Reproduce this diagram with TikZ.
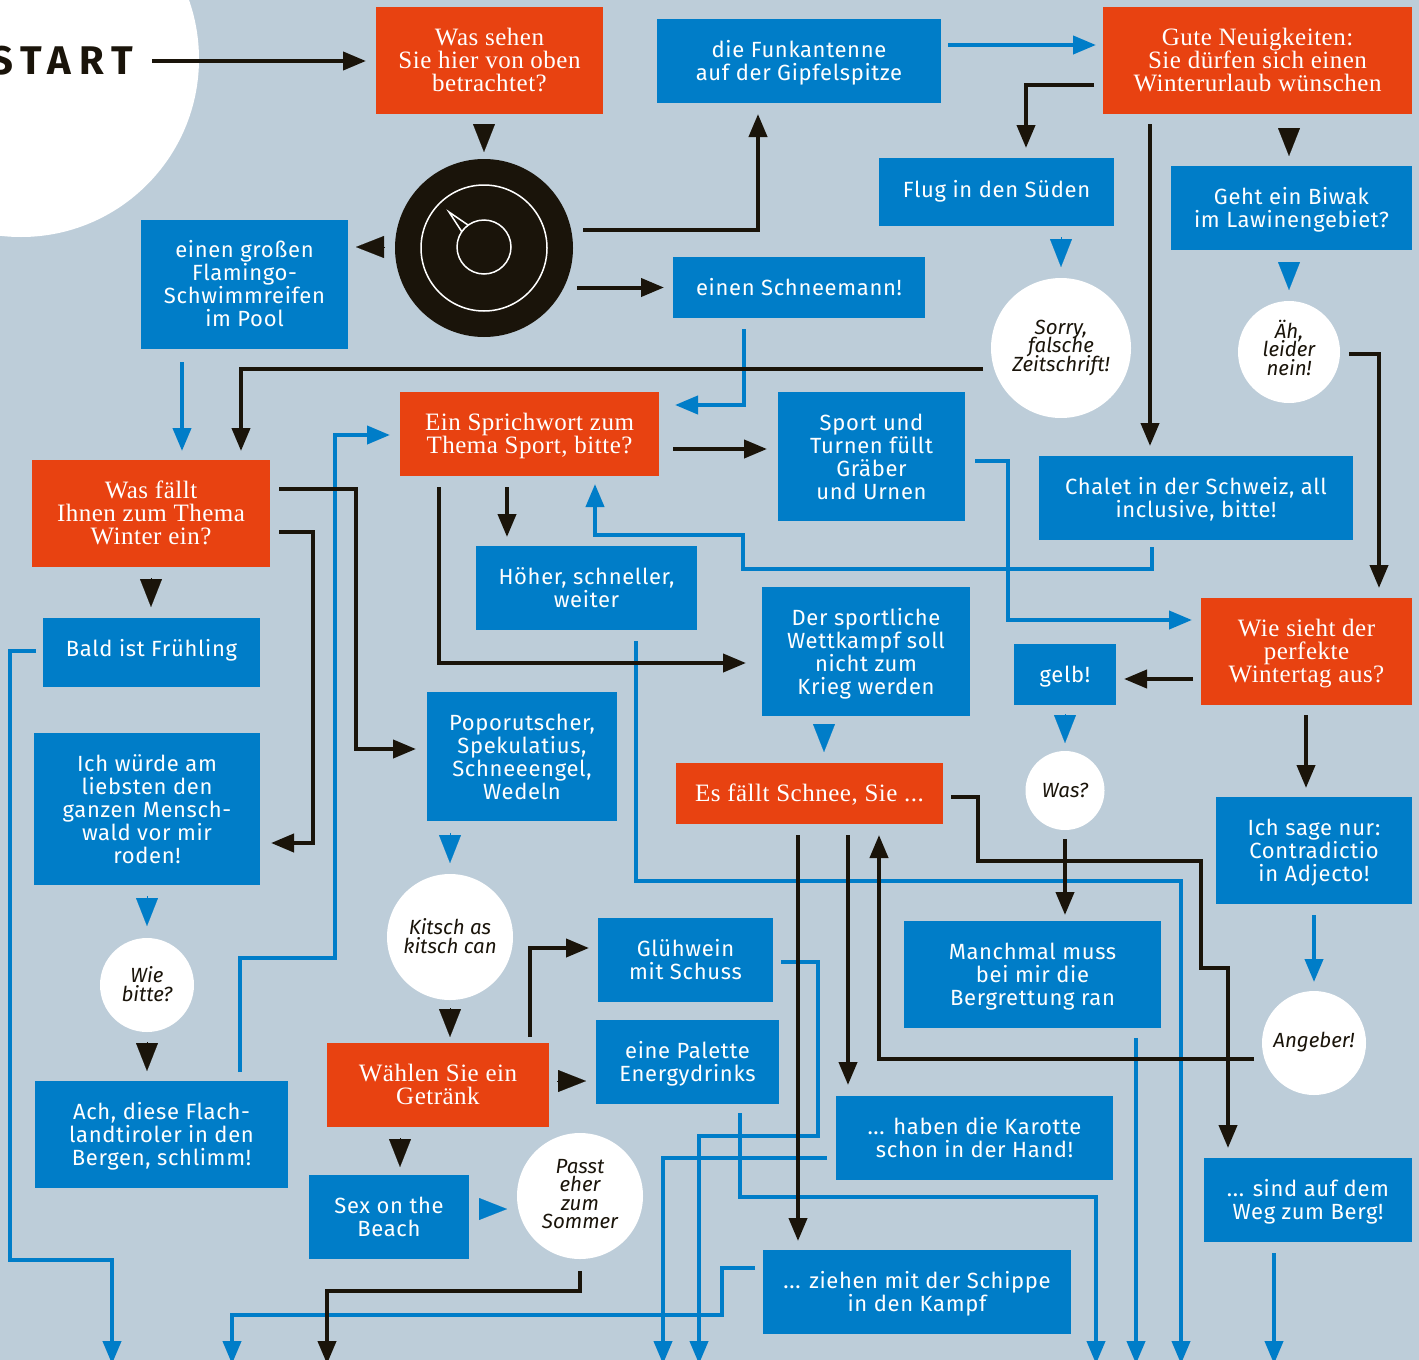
\documentclass[tikz,border=0pt]{standalone}
\usepackage{fontspec}
\usetikzlibrary{arrows.meta}
\setmainfont{Fira Sans}
\newfontfamily\bluefont[LetterSpace=3]{Fira Sans}
\newfontfamily\redfont[LetterSpace=2]{Liberation Serif}
\newfontfamily\startfont[LetterSpace=20]{Fira Sans}
\definecolor{bgc}{HTML}{BDCDD9}
\definecolor{bluec}{HTML}{007DC8}
\definecolor{redc}{HTML}{E84211}
\definecolor{inkc}{HTML}{1A140A}
\newcommand\tightlines{\setlength\lineskiplimit{-100pt}}
\tikzset{
  off/.style 2 args={shift={(#1,#2)}},
  flatbox/.style={inner sep=0pt,outer sep=0pt,align=center,text=white},
  bluebox/.style={flatbox,fill=bluec,font=\bluefont\fontsize{22}{23}\selectfont\tightlines},
  redbox/.style={flatbox,fill=redc,font=\redfont\fontsize{25}{23}\selectfont\tightlines},
  talk/.style={circle,fill=white,inner sep=0pt,outer sep=0pt,align=center,text=inkc,
    font=\fontsize{20.5}{18.5}\selectfont\itshape\tightlines},
  inkline/.style={draw=inkc,line width=4pt,-{Triangle[length=23pt,width=18pt]}},
  blueline/.style={draw=bluec,line width=4pt,-{Triangle[length=23pt,width=18pt]}},
  inktip/.style={draw=inkc,line width=0.1pt,-{Triangle[length=28pt,width=22pt]}},
  bluetip/.style={draw=bluec,line width=0.1pt,-{Triangle[length=28pt,width=22pt]}},
}
\newcommand\lifted[2]{\leavevmode\vrule width 0pt height \dimexpr26pt+#1pt\relax depth 0pt\relax #2\vrule width 0pt height 0pt depth \dimexpr10pt-#1pt\relax\relax}
\newcommand\mybox[8]{\node[#1,minimum width={(#5-#3)*1pt},minimum height={(#6-#4)*1pt}] (#2) at ({(#3+#5)/2},{(#4+#6)/2}) {\lifted{#7}{#8}};}
\begin{document}
\begin{tikzpicture}[x=1pt,y=-1pt]
\useasboundingbox (0,0) rectangle (1419,1360);
\fill[bgc] (0,0) rectangle (1419,1360);
\fill[white] (21,59) circle [radius=178];
\node[anchor=east,inner sep=0pt,text=inkc,font=\startfont\bfseries\fontsize{40}{40}\selectfont] (START) at (133,61) {START};
% red boxes
\mybox{redbox}{R1}{376}{7}{603}{114}{0}{Was sehen\\Sie hier von oben\\betrachtet?}
\mybox{redbox}{R2}{1103}{7}{1412}{114}{0}{Gute Neuigkeiten:\\Sie dürfen sich einen\\Winterurlaub wünschen}
\mybox{redbox}{R3}{400}{392}{659}{476}{0}{Ein Sprichwort zum\\Thema Sport, bitte?}
\mybox{redbox}{R4}{32}{460}{270}{567}{0}{Was fällt\\Ihnen zum Thema\\Winter ein?}
\mybox{redbox}{R5}{1201}{598}{1412}{705}{0}{Wie sieht der\\perfekte\\Wintertag aus?}
\mybox{redbox}{R6}{676}{763}{943}{824}{0}{Es fällt Schnee, Sie ...}
\mybox{redbox}{R7}{327}{1043}{549}{1127}{0}{Wählen Sie ein\\Getränk}
% blue boxes
\mybox{bluebox}{Funk}{657}{19}{941}{103}{0}{die Funkantenne\\auf der Gipfelspitze}
\mybox{bluebox}{Flug}{879}{158}{1114}{226}{-3}{Flug in den Süden}
\mybox{bluebox}{Biwak}{1171}{166}{1412}{250}{0}{Geht ein Biwak\\im Lawinengebiet?}
\mybox{bluebox}{Flamingo}{141}{220}{348}{349}{-1}{einen großen\\Flamingo-\\Schwimmreifen\\im Pool}
\mybox{bluebox}{Schneemann}{673}{257}{925}{318}{0}{einen Schneemann!}
\mybox{bluebox}{SportB}{778}{392}{965}{521}{0}{Sport und\\Turnen füllt\\Gräber\\und Urnen}
\mybox{bluebox}{Chalet}{1039}{456}{1353}{540}{0}{Chalet in der Schweiz, all\\inclusive, bitte!}
\mybox{bluebox}{Hoeher}{476}{546}{697}{630}{0}{Höher, schneller,\\weiter}
\mybox{bluebox}{Bald}{43}{618}{260}{687}{-4}{Bald ist Frühling}
\mybox{bluebox}{Wett}{762}{587}{970}{716}{0}{Der sportliche\\Wettkampf soll\\nicht zum\\Krieg werden}
\mybox{bluebox}{Gelb}{1014}{644}{1116}{705}{0}{gelb!}
\mybox{bluebox}{Popo}{427}{692}{617}{821}{0}{Poporutscher,\\Spekulatius,\\Schneeengel,\\Wedeln}
\mybox{bluebox}{Wald}{34}{733}{260}{885}{0}{Ich würde am\\liebsten den\\ganzen Mensch-\\wald vor mir\\roden!}
\mybox{bluebox}{Contra}{1216}{797}{1412}{904}{0}{Ich sage nur:\\Contradictio\\in Adjecto!}
\mybox{bluebox}{Manch}{904}{921}{1161}{1028}{0}{Manchmal muss\\bei mir die\\Bergrettung ran}
\mybox{bluebox}{Gluh}{598}{918}{773}{1002}{0}{Glühwein\\mit Schuss}
\mybox{bluebox}{Palette}{596}{1020}{779}{1104}{0}{eine Palette\\Energydrinks}
\mybox{bluebox}{Karotte}{836}{1096}{1113}{1180}{0}{... haben die Karotte\\schon in der Hand!}
\mybox{bluebox}{Flach}{35}{1081}{288}{1188}{0}{Ach, diese Flach-\\landtiroler in den\\Bergen, schlimm!}
\mybox{bluebox}{Sex}{309}{1175}{469}{1259}{0}{Sex on the\\Beach}
\mybox{bluebox}{Sind}{1204}{1158}{1412}{1242}{0}{... sind auf dem\\Weg zum Berg!}
\mybox{bluebox}{Schippe}{763}{1250}{1071}{1334}{0}{... ziehen mit der Schippe\\in den Kampf}
% talk circles
\node[talk,minimum size=140pt] (Sorry) at (1061,348) {\lifted{-3.5}{Sorry,\\falsche\\Zeitschrift!}};
\node[talk,minimum size=102pt] (Aeh) at (1289,352) {\lifted{-3.5}{Äh,\\leider\\nein!}};
\node[talk,minimum size=126pt] (Kitsch) at (450,937) {\lifted{-1}{Kitsch as\\kitsch can}};
\node[talk,minimum size=94pt] (WieB) at (147,985) {\lifted{-1}{Wie\\bitte?}};
\node[talk,minimum size=79pt] (WasQ) at (1065,790.5) {\lifted{-1}{Was?}};
\node[talk,minimum size=104pt] (Ang) at (1314,1043) {\lifted{-4}{Angeber!}};
\node[talk,minimum size=126pt] (Passt) at (580,1196) {\lifted{-3}{Passt\\eher\\zum\\Sommer}};
% summit seen from above
\node[circle,fill=inkc,inner sep=0pt,outer sep=0pt,minimum size=178pt] (Peak) at (484,248) {};
\draw[white,line width=1.5pt] (Peak.center) circle [radius=63];
\draw[white,line width=1.5pt] (484,247) circle [radius=27];
\draw[white,line width=1.5pt,line join=miter] (468,225) -- (449,212) -- (462,232);
% free ends at the lower edge
\coordinate (x1) at (112,1364);
\coordinate (x2) at (232,1364);
\coordinate (x3) at (327,1364);
\coordinate (x4) at (663,1364);
\coordinate (x5) at (699,1364);
\coordinate (x6) at (1096,1364);
\coordinate (x7) at (1136,1364);
\coordinate (x8) at (1181,1364);
\coordinate (x9) at (1274,1364);
% blue connectors
\draw[blueline] ([off={7}{-16}]Funk.east) -- ([off={-7}{-15.5}]R2.west);
\draw[bluetip] ([off={64.5}{11}]Flug.south) -- ([off={0}{-11}]Sorry.north);
\draw[bluetip] ([off={-2.5}{12}]Biwak.south) -- ([off={0}{-11}]Aeh.north);
\draw[blueline] ([off={-55}{11}]Schneemann.south) |- ([off={16}{-29}]R3.east);
\draw[blueline] ([off={-62.5}{13}]Flamingo.south) -- ([off={31}{-9}]R4.north);
\draw[blueline] ([off={78.5}{-9}]Flach.north) |- (335,958) |- ([off={-10}{1}]R3.west);
\draw[blueline] ([off={-44}{7}]Chalet.south) |- (743,569) |- (595,535) -- ([off={65.5}{8}]R3.south);
\draw[blueline] ([off={10}{4.5}]SportB.east) -| (1008,620) -- ([off={-9}{-31.5}]R5.west);
\draw[blueline] ([off={-7}{-1.5}]Bald.west) -| (10,1260) -| (x1);
\draw[bluetip] ([off={0}{11}]Wald.south) -- ([off={0}{-12}]WieB.north);
\draw[bluetip] ([off={-72}{12}]Popo.south) -- ([off={0}{-11}]Kitsch.north);
\draw[bluetip] ([off={10}{-8}]Sex.east) -- ([off={-10}{13}]Passt.west);
\draw[blueline] ([off={-8}{-24}]Schippe.west) -| (722,1315) -| (x2);
\draw[blueline] ([off={-9}{20}]Karotte.west) -| (x4);
\draw[blueline] ([off={8}{2}]Gluh.east) -| (818,1136) -| (x5);
\draw[blueline] ([off={52.5}{9}]Palette.south) |- (1096,1197) -- (x6);
\draw[blueline] ([off={49.5}{11}]Hoeher.south) |- (1181,881) -- (x8);
\draw[blueline] ([off={103.5}{10}]Manch.south) -- (x7);
\draw[blueline] ([off={-34}{11}]Sind.south) -- (x9);
\draw[bluetip] ([off={-42}{8}]Wett.south) -- ([off={14.5}{-11}]R6.north);
\draw[bluetip] ([off={0}{9}]Gelb.south) -- ([off={0}{-8}]WasQ.north);
\draw[blueline] ([off={0}{11}]Contra.south) -- ([off={0}{-9}]Ang.north);
% black connectors
\draw[inkline] ([off={19}{0}]START.east) -- ([off={-10}{0.5}]R1.west);
\draw[inktip] ([off={-5.5}{10}]R1.south) -- ([off={0}{-7}]Peak.north);
\draw[inkline] ([off={10}{-18}]Peak.east) -| ([off={-41}{11}]Funk.south);
\draw[inkline] ([off={4}{39.5}]Peak.east) -- ([off={-9}{0}]Schneemann.west);
\draw[inktip] ([off={-10}{-1}]Peak.west) -- ([off={8}{-37.5}]Flamingo.east);
\draw[inkline] ([off={-9}{24.5}]R2.west) -| ([off={29.5}{-10}]Flug.north);
\draw[inkline] ([off={-107.5}{10}]R2.south) -- ([off={-46}{-10}]Chalet.north);
\draw[inktip] ([off={31.5}{14}]R2.south) -- ([off={-2.5}{-10}]Biwak.north);
\draw[inkline] ([off={-8}{21}]Sorry.west) -| ([off={90}{-9}]R4.north);
\draw[inkline] ([off={9}{2}]Aeh.east) -| ([off={72.5}{-10}]R5.north);
\draw[inkline] ([off={14}{15}]R3.east) -- ([off={-11}{-7.5}]SportB.west);
\draw[inkline] ([off={-22.5}{11}]R3.south) -- ([off={-79.5}{-9}]Hoeher.north);
\draw[inkline] ([off={-90.5}{11}]R3.south) |- ([off={-16}{11.5}]Wett.west);
\draw[inkline] ([off={9}{-24.5}]R4.east) -| (356,749) -- ([off={-11}{-7.5}]Popo.west);
\draw[inkline] ([off={9}{18.5}]R4.east) -| (313,843) -- ([off={11}{34}]Wald.east);
\draw[inktip] ([off={0}{11}]R4.south) -- ([off={-0.5}{-11}]Bald.north);
\draw[inktip] ([off={0}{10}]WieB.south) -- ([off={-14.5}{-10}]Flach.north);
\draw[inktip] ([off={0}{8}]Kitsch.south) -- ([off={12}{-6}]R7.north);
\draw[inkline] ([off={92}{-6}]R7.north) |- ([off={-9}{-12}]Gluh.west);
\draw[inktip] ([off={8}{-4}]R7.east) -- ([off={-10}{19}]Palette.west);
\draw[inktip] ([off={-38}{11}]R7.south) -- ([off={11}{-8}]Sex.north);
\draw[inkline] ([off={0}{12}]Passt.south) |- (327,1291) -- (x3);
\draw[inkline] ([off={-8}{27.5}]R5.west) -- ([off={8}{4.5}]Gelb.east);
\draw[inkline] ([off={-0.5}{10}]R5.south) -- ([off={-8}{-9}]Contra.north);
\draw[inkline] ([off={0}{9}]WasQ.south) -- ([off={32.5}{-6}]Manch.north);
\draw[inkline] ([off={8}{3.5}]R6.east) -| (978,861) -| (1201,968) -| ([off={-80}{-10}]Sind.north);
\draw[inkline] ([off={-11.5}{11}]R6.south) -- ([off={-119}{-9}]Schippe.north);
\draw[inkline] ([off={38.5}{11}]R6.south) -- ([off={-126.5}{-11}]Karotte.north);
\draw[inkline] ([off={-8}{16}]Ang.west) -| ([off={69.5}{11}]R6.south);
\end{tikzpicture}
\end{document}
